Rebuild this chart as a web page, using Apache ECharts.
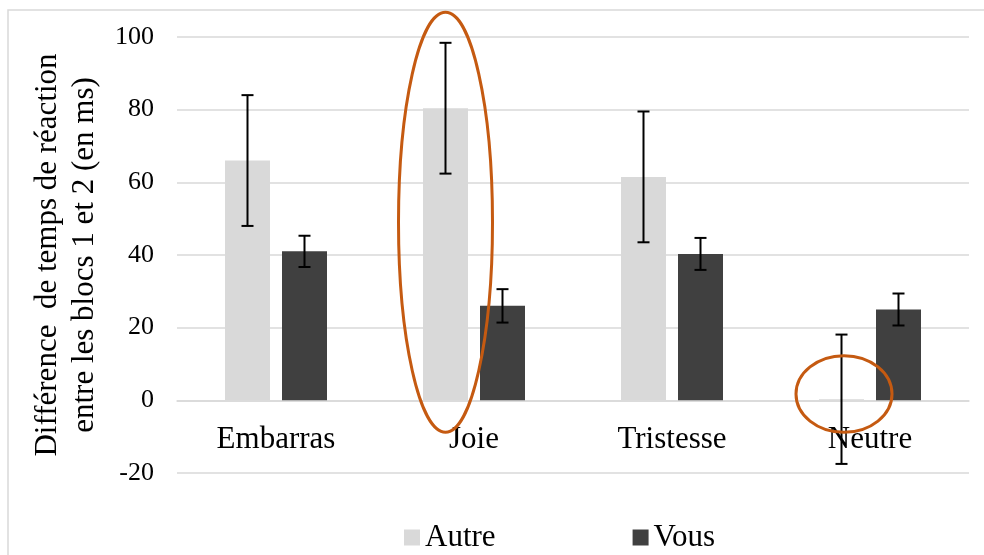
<!DOCTYPE html>
<html>
<head>
<meta charset="utf-8">
<script src="https://cdn.jsdelivr.net/npm/echarts@6/dist/echarts.min.js"></script>
<style>
  html, body { margin: 0; padding: 0; background: #fff; }
  #main { width: 984px; height: 555px; }
</style>
</head>
<body>
<div id="main"></div>
<script>
// data
const categories = ['Embarras', 'Joie', 'Tristesse', 'Neutre'];
const autre = [66, 80.4, 61.5, 0.3];
const autreErr = [18, 18, 18, 17.8];
const vous = [41, 26, 40.3, 25];
const vousErr = [4.3, 4.6, 4.4, 4.4];
const yTicks = { min: -20, max: 100, interval: 20 };

const font = '"Liberation Serif", "Times New Roman", serif';
const barW = 45;
const gapPx = 12;
const off = (barW + gapPx) / 2;
const gridTop = 37, gridBottom = 82;
const gridH = 555 - gridTop - gridBottom;
// lift the category axis up to the zero line
const zeroOffset = -gridH * (0 - yTicks.min) / (yTicks.max - yTicks.min);

let chart = echarts.init(document.getElementById('main'));

function errSeries(name, vals, errs, shift) {
  return {
    name: name + ' err',
    type: 'custom',
    z: 10,
    silent: true,
    data: vals.map(function (v, i) { return [i, v - errs[i], v + errs[i]]; }),
    renderItem: function (params, api) {
      let lo = api.coord([api.value(0), api.value(1)]);
      let hi = api.coord([api.value(0), api.value(2)]);
      let x = lo[0] + shift;
      let st = { stroke: '#000', lineWidth: 2 };
      return {
        type: 'group',
        children: [
          { type: 'line', shape: { x1: x, y1: lo[1], x2: x, y2: hi[1] }, style: st },
          { type: 'line', shape: { x1: x - 6, y1: lo[1], x2: x + 6, y2: lo[1] }, style: st },
          { type: 'line', shape: { x1: x - 6, y1: hi[1], x2: x + 6, y2: hi[1] }, style: st }
        ]
      };
    }
  };
}

chart.setOption({
  animation: false,
  textStyle: { fontFamily: font },
  grid: { left: 177, right: 15, top: gridTop, bottom: gridBottom },
  legend: {
    data: ['Autre', 'Vous'],
    left: 399,
    top: 517,
    itemWidth: 16,
    itemHeight: 16,
    itemGap: 137,
    icon: 'rect',
    textStyle: { fontFamily: font, fontSize: 31, color: '#000' }
  },
  xAxis: {
    type: 'category',
    data: categories,
    offset: zeroOffset,
    axisLine: { onZero: false, lineStyle: { color: '#d9d9d9', width: 1.5 } },
    axisTick: { show: false },
    axisLabel: { fontFamily: font, fontSize: 31, color: '#000', margin: 24 }
  },
  yAxis: {
    type: 'value',
    min: yTicks.min,
    max: yTicks.max,
    interval: yTicks.interval,
    name: 'Différence  de temps de réaction\nentre les blocs 1 et 2 (en ms)',
    nameLocation: 'middle',
    nameRotate: 90,
    nameGap: 74,
    nameTextStyle: { fontFamily: font, fontSize: 31, color: '#000', lineHeight: 37 },
    axisLine: { show: false },
    axisTick: { show: false },
    axisLabel: { fontFamily: font, fontSize: 26, color: '#000', margin: 23 },
    splitLine: { lineStyle: { color: '#d9d9d9', width: 1.5 } }
  },
  series: [
    { name: 'Autre', type: 'bar', data: autre, barWidth: barW, barGap: (gapPx / barW * 100) + '%', itemStyle: { color: '#d9d9d9' } },
    { name: 'Vous', type: 'bar', data: vous, barWidth: barW, itemStyle: { color: '#404040' } },
    errSeries('Autre', autre, autreErr, -off),
    errSeries('Vous', vous, vousErr, off)
  ]
});

// outer frame and the orange highlight ellipses
let joie = chart.convertToPixel({ xAxisIndex: 0, yAxisIndex: 0 }, [1, 0]);
let neutre = chart.convertToPixel({ xAxisIndex: 0, yAxisIndex: 0 }, [3, 0]);
let yTop = chart.convertToPixel({ yAxisIndex: 0 }, 106.8);
let yBot = chart.convertToPixel({ yAxisIndex: 0 }, -8.8);
let yN1 = chart.convertToPixel({ yAxisIndex: 0 }, 12.3);
let ring = { fill: 'none', stroke: '#c55a11', lineWidth: 3 };
chart.setOption({
  graphic: [
    { type: 'rect', silent: true, z: -1, shape: { x: 8, y: 10, width: 990, height: 560 }, style: { fill: 'none', stroke: '#d9d9d9', lineWidth: 1.5 } },
    { type: 'ellipse', silent: true, z: 100, shape: { cx: joie[0] - off, cy: (yTop + yBot) / 2, rx: 47, ry: (yBot - yTop) / 2 }, style: ring },
    { type: 'ellipse', silent: true, z: 100, shape: { cx: neutre[0] - 26, cy: (yN1 + yBot) / 2, rx: 48, ry: (yBot - yN1) / 2 }, style: ring }
  ]
});
</script>
</body>
</html>
